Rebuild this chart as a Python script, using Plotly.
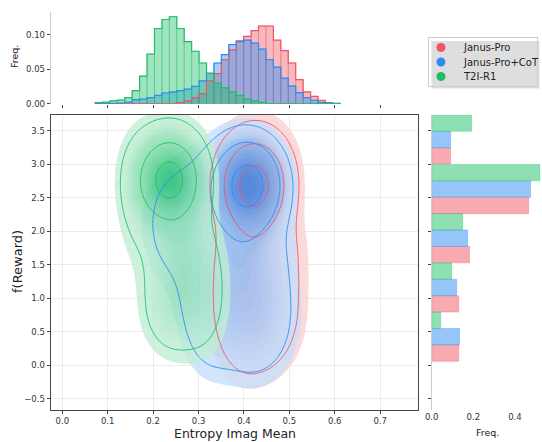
import numpy as np
import plotly.graph_objects as go

W, H = 542, 442

series_names = ["Janus-Pro", "Janus-Pro+CoT", "T2I-R1"]
series_rgb = [(239, 85, 98), (44, 140, 244), (29, 191, 102)]

# ---- top marginal histogram (Entropy Imag Mean), probability per bin ----
hist_bin_start = 0.072
hist_bin_width = 0.01637
hist_janus = [0, 0, 0, 0, 0, 0, 0, 0, 0, 0, 0, 0.0015, 0.004, 0.0087, 0.0145, 0.033,
              0.0435, 0.064, 0.078, 0.091, 0.0976, 0.106, 0.1126, 0.1126, 0.092, 0.077,
              0.059, 0.035, 0.017, 0.0106, 0.005, 0.0015, 0]
hist_cot = [0, 0, 0.0005, 0.001, 0.0024, 0.0058, 0.0068, 0.0087, 0.012, 0.0155, 0.017,
            0.019, 0.021, 0.025, 0.033, 0.044, 0.059, 0.071, 0.0855, 0.090, 0.092, 0.088,
            0.079, 0.064, 0.053, 0.037, 0.0256, 0.016, 0.0087, 0.005, 0.002, 0.001, 0.0005]
hist_t2i = [0.0015, 0.0024, 0.004, 0.0053, 0.0087, 0.019, 0.040, 0.072, 0.109, 0.122,
            0.126, 0.109, 0.090, 0.076, 0.059, 0.044, 0.030, 0.023, 0.017, 0.012, 0.0065,
            0.004, 0.002, 0, 0, 0, 0, 0, 0, 0, 0, 0, 0]

# ---- right marginal histogram (f(Reward)), probability per bin ----
reward_bin_centers = [0.425, 1.16, 1.895, 2.63, 3.37]
reward_bin_width = 0.735
reward_janus = [0.130, 0.130, 0.182, 0.466, 0.091]
reward_cot = [0.134, 0.120, 0.173, 0.475, 0.091]
reward_t2i = [0.043, 0.096, 0.149, 0.520, 0.192]

# ---- joint density (mixture components) ----
janus_cx = [0.422, 0.430, 0.440, 0.435, 0.390]
janus_cy = [2.68, 3.10, 1.75, 0.75, 1.20]
janus_sx = [0.040, 0.055, 0.055, 0.055, 0.040]
janus_sy = [0.36, 0.45, 0.50, 0.55, 0.80]
janus_w = [0.48, 0.08, 0.14, 0.20, 0.10]

cot_cx = [0.410, 0.370, 0.400, 0.420, 0.320, 0.250]
cot_cy = [2.70, 2.60, 1.70, 0.70, 0.90, 2.10]
cot_sx = [0.040, 0.060, 0.060, 0.060, 0.040, 0.050]
cot_sy = [0.36, 0.50, 0.50, 0.60, 0.60, 0.60]
cot_w = [0.42, 0.12, 0.12, 0.16, 0.09, 0.09]

t2i_cx = [0.236, 0.235, 0.255, 0.240, 0.310, 0.165]
t2i_cy = [2.76, 3.00, 1.80, 0.85, 1.00, 2.50]
t2i_sx = [0.038, 0.055, 0.050, 0.042, 0.040, 0.030]
t2i_sy = [0.35, 0.45, 0.50, 0.45, 0.60, 0.55]
t2i_w = [0.50, 0.12, 0.14, 0.10, 0.09, 0.05]

# iso-proportion levels of the outline contours
line_levels = [0.10, 0.55, 0.85]

hist_data = [hist_janus, hist_cot, hist_t2i]
reward_data = [reward_janus, reward_cot, reward_t2i]
mix_data = [
    (janus_cx, janus_cy, janus_sx, janus_sy, janus_w),
    (cot_cx, cot_cy, cot_sx, cot_sy, cot_w),
    (t2i_cx, t2i_cy, t2i_sx, t2i_sy, t2i_w),
]

gx = np.linspace(-0.06, 0.84, 260)
gy = np.linspace(-1.4, 4.6, 320)
GX, GY = np.meshgrid(gx, gy)


def density(cx, cy, sx, sy, w):
    d = np.zeros_like(GX)
    for a, b, c, e, f in zip(cx, cy, sx, sy, w):
        d += f / (c * e) * np.exp(-0.5 * ((GX - a) / c) ** 2 - 0.5 * ((GY - b) / e) ** 2)
    return d


def mass_below(d):
    flat = d.ravel()
    order = np.argsort(flat)[::-1]
    cum = np.cumsum(flat[order])
    cum = cum / cum[-1]
    q = np.empty_like(flat)
    q[order] = 1.0 - cum
    return q.reshape(d.shape)


def rgba(c, a):
    return "rgba(%d,%d,%d,%.3f)" % (c[0], c[1], c[2], a)


def tint(c, f):
    return tuple(int(round(255 - (255 - v) * f)) for v in c)


def px_x(p):
    return p / W


def px_y(p):
    return 1 - p / H


FONT = "DejaVu Sans"
fig = go.Figure()

# filled KDE (iso-proportion bands)
qs = [mass_below(density(*m)) for m in mix_data]
nband = 19
for q, c in zip(qs, series_rgb):
    fig.add_trace(go.Contour(
        x=gx, y=gy, z=q,
        contours=dict(coloring="fill", start=0.05, end=0.95, size=0.05, showlines=False),
        colorscale=[[0, rgba(tint(c, 0.28), 0)], [1.0 / nband, rgba(tint(c, 0.28), 1)],
                    [0.5, rgba(tint(c, 0.55), 1)], [1, rgba(c, 1)]],
        line=dict(width=0), opacity=0.78, showscale=False, hoverinfo="skip",
        xaxis="x", yaxis="y", showlegend=False))

# contour lines
for q, c in zip(qs, series_rgb):
    for lv in line_levels:
        fig.add_trace(go.Contour(
            x=gx, y=gy, z=q,
            contours=dict(coloring="none", start=lv, end=lv, size=1),
            line=dict(width=1.0, color=rgba(c, 0.9)), showscale=False, hoverinfo="skip",
            xaxis="x", yaxis="y", showlegend=False))

# top histogram
n = len(hist_janus)
edges = [hist_bin_start + i * hist_bin_width for i in range(n + 1)]
centers = [hist_bin_start + (i + 0.5) * hist_bin_width for i in range(n)]
for h, c in zip(hist_data, series_rgb):
    fig.add_trace(go.Bar(
        x=centers, y=h, width=hist_bin_width,
        marker=dict(color=rgba(c, 0.42), line=dict(color=rgba(c, 0.35), width=1)),
        xaxis="x2", yaxis="y2", showlegend=False, hoverinfo="skip"))
    fig.add_trace(go.Scatter(
        x=[edges[0]] + edges[:-1] + [edges[-1]], y=[0] + list(h) + [0],
        mode="lines", line=dict(shape="hv", color=rgba(c, 1), width=1.2),
        xaxis="x2", yaxis="y2", showlegend=False, hoverinfo="skip"))

# right histogram (dodged horizontal bars)
sub_w = reward_bin_width / 3
for k, (v, c) in enumerate(zip(reward_data, series_rgb)):
    fig.add_trace(go.Bar(
        y=reward_bin_centers, x=v, orientation="h", width=sub_w,
        offset=-reward_bin_width / 2 + k * sub_w,
        marker=dict(color=rgba(c, 0.5), line=dict(color=rgba(c, 0.5), width=0.6)),
        xaxis="x3", yaxis="y3", showlegend=False, hoverinfo="skip"))

# legend (own small panel)
leg_rows = [0.806, 0.5, 0.194]
fig.add_trace(go.Scatter(
    x=[0.111] * 3, y=leg_rows, mode="markers",
    marker=dict(size=9, color=[rgba(c, 1) for c in series_rgb]),
    xaxis="x4", yaxis="y4", showlegend=False, hoverinfo="skip", cliponaxis=False))

tickfont = dict(family=FONT, size=8.5, color="#333333")
main_x = [px_x(50.7), px_x(418.3)]
main_y = [px_y(410), px_y(114.7)]

annotations = [
    dict(text="Entropy Imag Mean", x=px_x(234.5), y=px_y(433), xref="paper", yref="paper",
         showarrow=False, xanchor="center", yanchor="middle",
         font=dict(family=FONT, size=12.5, color="#222222")),
    dict(text="f(Reward)", x=px_x(17), y=px_y(262), xref="paper", yref="paper",
         showarrow=False, textangle=-90, xanchor="center", yanchor="middle",
         font=dict(family=FONT, size=13, color="#222222")),
    dict(text="Freq.", x=px_x(15), y=px_y(57), xref="paper", yref="paper",
         showarrow=False, textangle=-90, xanchor="center", yanchor="middle",
         font=dict(family=FONT, size=9.5, color="#222222")),
    dict(text="Freq.", x=px_x(487), y=px_y(432), xref="paper", yref="paper",
         showarrow=False, xanchor="center", yanchor="middle",
         font=dict(family=FONT, size=9.5, color="#222222")),
]
for name, yy in zip(series_names, leg_rows):
    annotations.append(dict(text=name, x=0.294, y=yy, xref="x4", yref="y4",
                            showarrow=False, xanchor="left", yanchor="middle",
                            font=dict(family=FONT, size=10, color="#222222")))

axis_off = dict(showgrid=False, zeroline=False, showticklabels=False, ticks="",
                automargin=False, fixedrange=True)

fig.update_layout(
    width=W, height=H, margin=dict(l=0, r=0, t=0, b=0, autoexpand=False),
    paper_bgcolor="white", plot_bgcolor="white", hovermode=False,
    barmode="overlay", font=dict(family=FONT, color="#222222"), showlegend=False,
    xaxis=dict(domain=main_x, range=[-0.0256, 0.784], tick0=0, dtick=0.1, tickformat=".1f",
               showgrid=True, gridcolor="#ebebeb", gridwidth=1, zeroline=False,
               showline=True, mirror=True, linecolor="#444444", linewidth=1.4,
               ticks="outside", ticklen=3, tickcolor="#444444", tickfont=tickfont,
               automargin=False),
    yaxis=dict(domain=main_y, range=[-0.67, 3.74], tick0=0, dtick=0.5, tickformat=".1f",
               showgrid=True, gridcolor="#ebebeb", gridwidth=1, zeroline=False,
               showline=True, mirror=True, linecolor="#444444", linewidth=1.4,
               ticks="outside", ticklen=3, tickcolor="#444444", tickfont=tickfont,
               automargin=False),
    xaxis2=dict(domain=main_x, range=[-0.0256, 0.784], tick0=0, dtick=0.1, anchor="y2",
                showticklabels=False, showgrid=False, zeroline=False, showline=False,
                ticks="outside", ticklen=3, tickcolor="#444444", automargin=False),
    yaxis2=dict(domain=[px_y(103.7), px_y(12)], range=[0, 0.1329], anchor="x2",
                tickvals=[0, 0.05, 0.10], tickformat=".2f", showgrid=False, zeroline=False,
                showline=True, linecolor="#cccccc", linewidth=1,
                ticks="outside", ticklen=3, tickcolor="#444444", tickfont=tickfont,
                automargin=False),
    xaxis3=dict(domain=[px_x(431.7), 1], range=[0, 0.530], anchor="y3",
                tickvals=[0, 0.2, 0.4], tickformat=".1f", showgrid=False, zeroline=False,
                showline=False, ticks="", tickfont=tickfont, automargin=False),
    yaxis3=dict(domain=main_y, range=[-0.67, 3.74], anchor="x3", tick0=0, dtick=0.5,
                showticklabels=False, showgrid=False, zeroline=False,
                showline=True, linecolor="#cccccc", linewidth=1,
                ticks="outside", ticklen=3, tickcolor="#444444", automargin=False),
    xaxis4=dict(domain=[px_x(429), px_x(536.7)], range=[0, 1], anchor="y4",
                showline=True, mirror=True, linecolor="#cccccc", linewidth=1, **axis_off),
    yaxis4=dict(domain=[px_y(85.7), px_y(38.3)], range=[0, 1], anchor="x4",
                showline=True, mirror=True, linecolor="#cccccc", linewidth=1, **axis_off),
    annotations=annotations,
    shapes=[
        dict(type="rect", xref="paper", yref="paper", layer="below",
             x0=px_x(431.5), x1=px_x(539.5), y0=px_y(88.5), y1=px_y(41),
             fillcolor="rgba(0,0,0,0.13)", line=dict(width=0)),
    ],
)

fig.write_html("out.html", config={"displayModeBar": False},
               post_script="document.body.style.margin='0';")
